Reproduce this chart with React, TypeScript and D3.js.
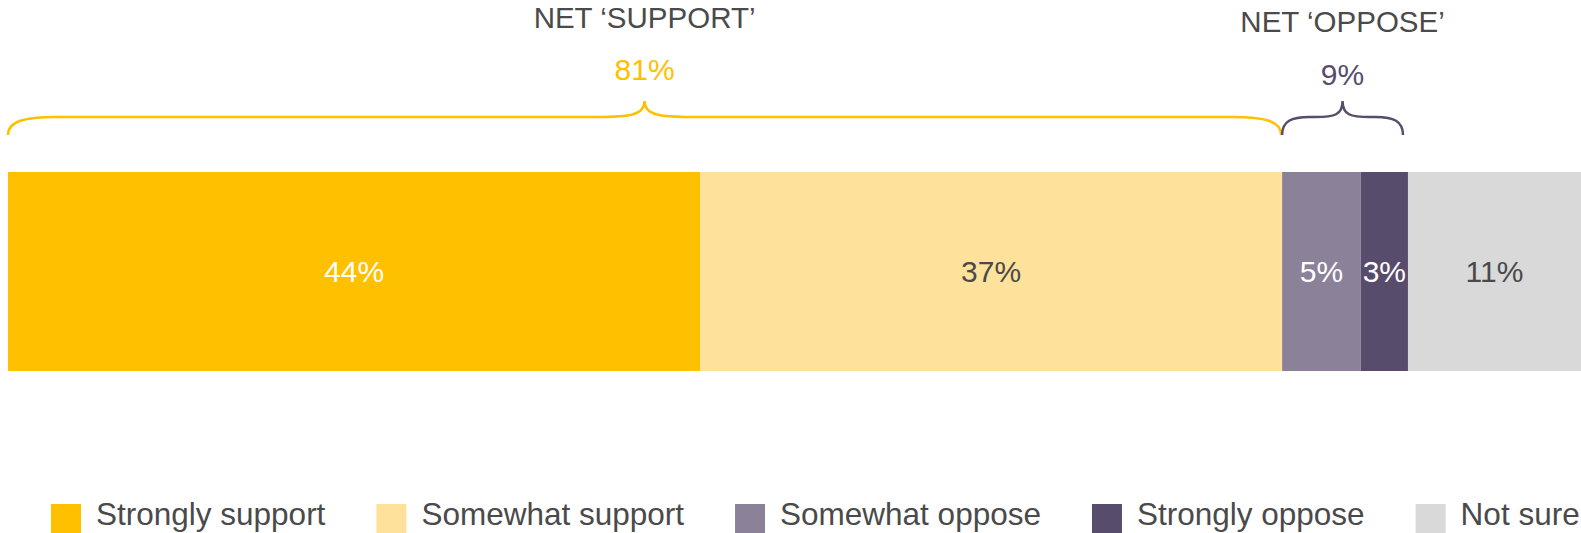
import React, { useEffect, useRef } from "react";
import * as d3 from "d3";

const categories = ["Strongly support", "Somewhat support", "Somewhat oppose", "Strongly oppose", "Not sure"];
const values = [44, 37, 5, 3, 11];
const colors = ["#FFC000", "#FEE29B", "#8B8199", "#584C6C", "#D9D9D9"];
const labelColors = ["#FFFFFF", "#404040", "#FFFFFF", "#FFFFFF", "#404040"];

const netGroups = [
  { title: "NET \u2018SUPPORT\u2019", value: "81%", from: 0, to: 1, color: "#FFC000", titleY: 28, valueY: 80, inset: 1 },
  { title: "NET \u2018OPPOSE\u2019", value: "9%", from: 2, to: 3, color: "#584C6C", titleY: 32, valueY: 85, inset: 5 },
];

const W = 1581;
const H = 533;
const FONT = "'Liberation Sans', Arial, Helvetica, sans-serif";
const TEXT = "#4a4a4a";

function bracePath(x0: number, x1: number, yEnd: number, yLine: number, yTip: number) {
  const xm = (x0 + x1) / 2;
  const half = (x1 - x0) / 2;
  const r = Math.min(48, half * 0.45);
  const p = d3.path();
  p.moveTo(x0, yEnd);
  p.bezierCurveTo(x0, yLine + 4, x0 + r * 0.35, yLine, x0 + r, yLine);
  p.lineTo(xm - r, yLine);
  p.bezierCurveTo(xm - r * 0.3, yLine, xm, yLine - 2, xm, yTip);
  p.bezierCurveTo(xm, yLine - 2, xm + r * 0.3, yLine, xm + r, yLine);
  p.lineTo(x1 - r, yLine);
  p.bezierCurveTo(x1 - r * 0.35, yLine, x1, yLine + 4, x1, yEnd);
  return p.toString();
}

export default function App() {
  const ref = useRef<SVGSVGElement | null>(null);

  useEffect(() => {
    const svg = d3.select(ref.current);
    svg.selectAll("*").remove();

    const x = d3.scaleLinear().domain([0, 100]).range([8, W]);
    const starts = d3.cumsum([0, ...values]);
    const barTop = 172;
    const barH = 199;

    const segs = values.map((v, i) => ({ v, i, s: starts[i], e: starts[i + 1] }));

    svg
      .append("g")
      .selectAll("rect")
      .data(segs)
      .join("rect")
      .attr("x", (d) => x(d.s))
      .attr("y", barTop)
      .attr("width", (d) => x(d.e) - x(d.s))
      .attr("height", barH)
      .attr("fill", (d) => colors[d.i]);

    svg
      .append("g")
      .selectAll("text")
      .data(segs)
      .join("text")
      .attr("x", (d) => (x(d.s) + x(d.e)) / 2)
      .attr("y", 282)
      .attr("text-anchor", "middle")
      .attr("font-family", FONT)
      .attr("font-size", 30)
      .attr("fill", (d) => (labelColors[d.i] === "#404040" ? TEXT : labelColors[d.i]))
      .text((d) => `${d.v}%`);

    // net braces
    netGroups.forEach((g) => {
      const x0 = x(starts[g.from]);
      const x1 = x(starts[g.to + 1]) - g.inset;
      const xm = (x0 + x1) / 2;
      svg
        .append("path")
        .attr("d", bracePath(x0, x1, 135, 117, 101))
        .attr("fill", "none")
        .attr("stroke", g.color)
        .attr("stroke-width", 2.5);
      svg
        .append("text")
        .attr("x", xm)
        .attr("y", g.titleY)
        .attr("text-anchor", "middle")
        .attr("font-family", FONT)
        .attr("font-size", 29.5)
        .attr("fill", TEXT)
        .text(g.title);
      svg
        .append("text")
        .attr("x", xm)
        .attr("y", g.valueY)
        .attr("text-anchor", "middle")
        .attr("font-family", FONT)
        .attr("font-size", 30)
        .attr("fill", g.color)
        .text(g.value);
    });

    // legend (flow layout)
    const lg = svg.append("g");
    let cx = 51;
    categories.forEach((c, i) => {
      lg.append("rect").attr("x", cx).attr("y", 504).attr("width", 30).attr("height", 30).attr("fill", colors[i]);
      const t = lg
        .append("text")
        .attr("x", cx + 45)
        .attr("y", 525)
        .attr("font-family", FONT)
        .attr("font-size", 31.5)
        .attr("fill", TEXT)
        .text(c);
      const w = (t.node() as SVGTextElement).getComputedTextLength();
      cx = cx + 45 + w + 51;
    });
  }, []);

  return (
    <svg
      ref={ref}
      width={W}
      height={H}
      style={{ position: "absolute", left: 0, top: 0, display: "block", background: "#fff" }}
    />
  );
}
